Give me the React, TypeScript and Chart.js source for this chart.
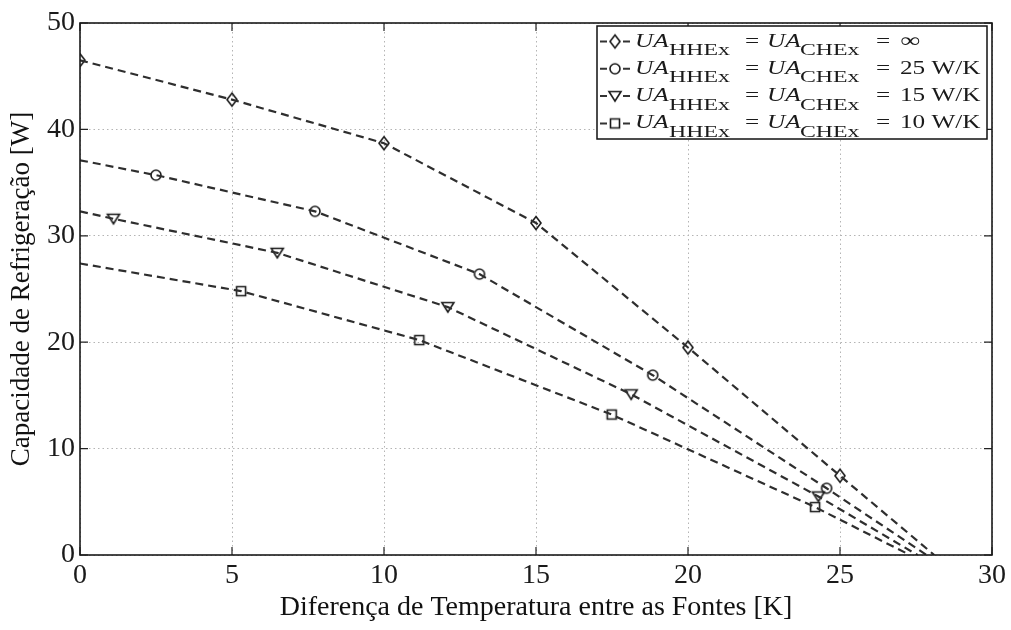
import React, { useEffect, useRef } from 'react';
import { Chart, registerables } from 'chart.js';

Chart.register(...registerables);

// ---------------- data ----------------
const xTickValues = [0, 5, 10, 15, 20, 25, 30];
const yTickValues = [0, 10, 20, 30, 40, 50];

const seriesValues = ['∞', '25 W/K', '15 W/K', '10 W/K'];

const diamondX = [0, 5, 10, 15, 20, 25];
const diamondY = [46.5, 42.8, 38.7, 31.2, 19.5, 7.45];

const circleX = [2.5, 7.73, 13.14, 18.84, 24.56];
const circleY = [35.7, 32.3, 26.4, 16.9, 6.27];

const triangleX = [1.1, 6.49, 12.1, 18.13, 24.29];
const triangleY = [31.6, 28.4, 23.3, 15.1, 5.5];

const squareX = [5.3, 11.16, 17.49, 24.18];
const squareY = [24.8, 20.2, 13.2, 4.5];

// dashed trend lines: value at x = 0 and the x where they reach 0 W
const lineStartY = [46.5, 37.1, 32.3, 27.4];
const lineEndX = [28.1, 27.85, 27.55, 27.3];

const xTitle = 'Diferença de Temperatura entre as Fontes [K]';
const yTitle = 'Capacidade de Refrigeração [W]';

// ---------------- styling ----------------
const FONT = "'Liberation Serif', 'DejaVu Serif', serif";
const markerKinds = ['diamond', 'circle', 'triangle', 'square'];

function traceMarker(ctx: CanvasRenderingContext2D, kind: string, cx: number, cy: number) {
  ctx.beginPath();
  if (kind === 'diamond') {
    ctx.moveTo(cx, cy - 6.5);
    ctx.lineTo(cx + 5, cy);
    ctx.lineTo(cx, cy + 6.5);
    ctx.lineTo(cx - 5, cy);
    ctx.closePath();
  } else if (kind === 'circle') {
    ctx.arc(cx, cy, 5, 0, Math.PI * 2);
  } else if (kind === 'triangle') {
    ctx.moveTo(cx - 6, cy - 4.5);
    ctx.lineTo(cx + 6, cy - 4.5);
    ctx.lineTo(cx, cy + 5);
    ctx.closePath();
  } else {
    ctx.rect(cx - 4.5, cy - 4.5, 9, 9);
  }
}

function makeMarker(kind: string): HTMLCanvasElement {
  const c = document.createElement('canvas');
  c.width = 18;
  c.height = 18;
  const ctx = c.getContext('2d')!;
  ctx.strokeStyle = '#1a1a1a';
  ctx.lineWidth = 1.6;
  traceMarker(ctx, kind, 9, 9);
  ctx.stroke();
  return c;
}

function pts(xs: number[], ys: number[]) {
  return xs.map((x, i) => ({ x, y: ys[i] }));
}

export default function App() {
  const ref = useRef<HTMLCanvasElement>(null);

  useEffect(() => {
    const canvas = ref.current!;
    const markers = markerKinds.map(makeMarker);
    const markerSets = [
      pts(diamondX, diamondY),
      pts(circleX, circleY),
      pts(triangleX, triangleY),
      pts(squareX, squareY),
    ];

    const datasets: any[] = [];
    markerSets.forEach((m, i) => {
      const line = [] as { x: number; y: number }[];
      if (m[0].x !== 0) line.push({ x: 0, y: lineStartY[i] });
      line.push(...m);
      line.push({ x: lineEndX[i], y: 0 });
      datasets.push({
        data: line,
        showLine: true,
        borderColor: '#2e2e2e',
        borderWidth: 2.2,
        borderDash: [8, 5],
        pointRadius: 0,
        tension: 0,
        fill: false,
      });
    });
    markerSets.forEach((m, i) => {
      datasets.push({
        data: m,
        showLine: false,
        pointStyle: markers[i],
        pointRadius: 5,
        borderColor: '#1e1e1e',
        backgroundColor: 'rgba(0,0,0,0)',
      });
    });

    const framePlugin = {
      id: 'frame',
      afterDraw(chart: any) {
        const { ctx, chartArea: a } = chart;
        const xs = chart.scales.x;
        const ys = chart.scales.y;
        ctx.save();
        ctx.setLineDash([]);
        ctx.strokeStyle = '#222';
        ctx.lineWidth = 1.2;
        ctx.beginPath();
        xs.ticks.forEach((t: any) => {
          const p = xs.getPixelForValue(t.value);
          ctx.moveTo(p, a.bottom);
          ctx.lineTo(p, a.bottom - 8);
          ctx.moveTo(p, a.top);
          ctx.lineTo(p, a.top + 8);
        });
        ys.ticks.forEach((t: any) => {
          const p = ys.getPixelForValue(t.value);
          ctx.moveTo(a.left, p);
          ctx.lineTo(a.left + 8, p);
          ctx.moveTo(a.right, p);
          ctx.lineTo(a.right - 8, p);
        });
        ctx.stroke();
        ctx.lineWidth = 1.6;
        ctx.strokeStyle = '#1a1a1a';
        ctx.strokeRect(a.left, a.top, a.right - a.left, a.bottom - a.top);
        ctx.restore();
      },
    };

    const SX = 1.4;
    const drawStretched = (ctx: CanvasRenderingContext2D, text: string, x: number, y: number, font: string) => {
      ctx.save();
      ctx.font = font;
      ctx.translate(x, y);
      ctx.scale(SX, 1);
      ctx.fillText(text, 0, 0);
      ctx.restore();
    };

    const legendPlugin = {
      id: 'matlabLegend',
      afterDraw(chart: any) {
        const { ctx, chartArea: a } = chart;
        const boxR = a.right - 5;
        const boxL = boxR - 390;
        const boxT = a.top + 3;
        const boxB = boxT + 113;
        ctx.save();
        ctx.setLineDash([]);
        ctx.fillStyle = '#ffffff';
        ctx.fillRect(boxL, boxT, boxR - boxL, boxB - boxT);
        ctx.strokeStyle = '#111';
        ctx.lineWidth = 1.5;
        ctx.strokeRect(boxL, boxT, boxR - boxL, boxB - boxT);
        ctx.fillStyle = '#1a1a1a';
        ctx.textBaseline = 'alphabetic';
        ctx.textAlign = 'left';
        seriesValues.forEach((val, i) => {
          const base = boxT + 20.5 + i * 27.3;
          const my = base - 5;
          ctx.strokeStyle = '#333';
          ctx.lineWidth = 2;
          ctx.beginPath();
          ctx.moveTo(boxL + 3, my);
          ctx.lineTo(boxL + 10, my);
          ctx.moveTo(boxL + 26, my);
          ctx.lineTo(boxL + 33, my);
          ctx.stroke();
          const mk = markers[i];
          ctx.drawImage(mk, boxL + 18 - mk.width / 2, my - mk.height / 2);
          const it = `italic 18px ${FONT}`;
          const rm = `18px ${FONT}`;
          const sub = `17px ${FONT}`;
          drawStretched(ctx, 'UA', boxL + 38, base, it);
          drawStretched(ctx, 'HHEx', boxL + 72, base + 8.5, sub);
          drawStretched(ctx, '=', boxL + 148, base, rm);
          drawStretched(ctx, 'UA', boxL + 170, base, it);
          drawStretched(ctx, 'CHEx', boxL + 203, base + 8.5, sub);
          drawStretched(ctx, '=', boxL + 279, base, rm);
          drawStretched(ctx, val, boxL + 303, base, val === '∞' ? `20px ${FONT}` : rm);
        });
        ctx.restore();
      },
    };

    const chart = new Chart(canvas, {
      type: 'scatter',
      data: { datasets },
      options: {
        responsive: false,
        animation: false,
        devicePixelRatio: 1,
        layout: { padding: { left: 0, top: 23, right: 19, bottom: 0 } },
        plugins: { legend: { display: false }, tooltip: { enabled: false } },
        scales: {
          x: {
            type: 'linear',
            min: 0,
            max: 30,
            afterBuildTicks: (s: any) => {
              s.ticks = xTickValues.map((v) => ({ value: v }));
            },
            ticks: {
              font: { family: FONT, size: 28 },
              color: '#1a1a1a',
              padding: 4,
              maxRotation: 0,
              autoSkip: false,
            },
            grid: { color: '#b4b4b4', lineWidth: 1, drawTicks: false },
            border: { display: false, dash: [1.5, 3] },
            title: {
              display: true,
              text: xTitle,
              font: { family: FONT, size: 28 },
              color: '#111',
              padding: { top: 0, bottom: 6 },
            },
            afterFit: (s: any) => {
              s.height = 75;
            },
          },
          y: {
            type: 'linear',
            min: 0,
            max: 50,
            afterBuildTicks: (s: any) => {
              s.ticks = yTickValues.map((v) => ({ value: v }));
            },
            ticks: {
              font: { family: FONT, size: 28 },
              color: '#1a1a1a',
              padding: 5,
              autoSkip: false,
            },
            grid: { color: '#b4b4b4', lineWidth: 1, drawTicks: false },
            border: { display: false, dash: [1.5, 3] },
            title: {
              display: true,
              text: yTitle,
              font: { family: FONT, size: 27 },
              color: '#111',
              padding: { top: 6, bottom: 0 },
            },
            afterFit: (s: any) => {
              s.width = 80;
            },
          },
        },
      } as any,
      plugins: [framePlugin, legendPlugin],
    });
    return () => chart.destroy();
  }, []);

  return (
    <div style={{ position: 'fixed', left: 0, top: 0, width: 1011, height: 630, background: '#fff' }}>
      <canvas ref={ref} width={1011} height={630} style={{ display: 'block', width: 1011, height: 630 }} />
    </div>
  );
}
